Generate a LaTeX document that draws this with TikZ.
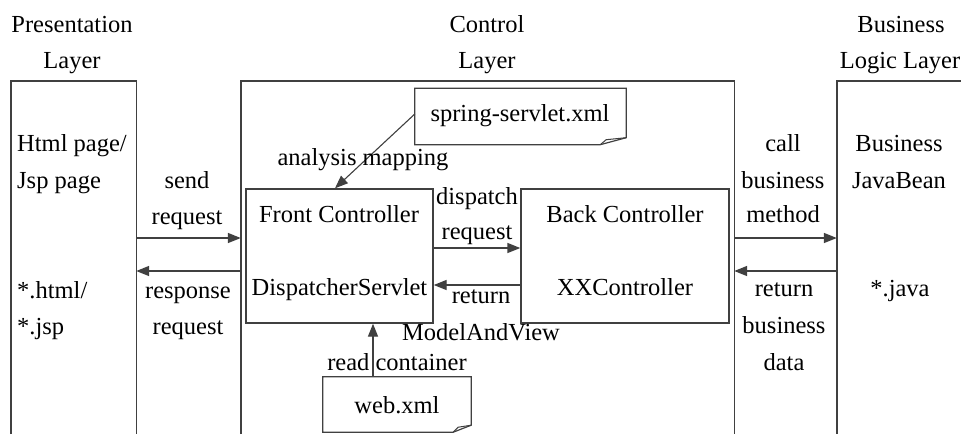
\documentclass[tikz,border=0pt]{standalone}
\usepackage{fontspec}
\setmainfont{Liberation Serif}
\usetikzlibrary{arrows.meta,calc}
\definecolor{linegray}{HTML}{404040}
\tikzset{
  txt/.style={inner sep=0pt, anchor=base, font=\fontsize{24.5}{30}\selectfont},
  txtl/.style={txt, anchor=base west},
  box/.style={draw=linegray, line width=1.4pt, inner sep=0pt},
  ghost/.style={draw=none, inner sep=0pt},
  edge/.style={draw=linegray, line width=1.4pt},
  arr/.style={edge, -{Triangle[length=13pt,width=10pt]}},
}
\begin{document}
\begin{tikzpicture}[x=1pt,y=-1pt]
\useasboundingbox (0,0) rectangle (961,434);
\fill[white] (0,0) rectangle (961,434);

% layer frames (open at the bottom)
\node[ghost, minimum width=125pt, minimum height=353pt] (pres) at (73.5,257.5) {};
\node[ghost, minimum width=493pt, minimum height=353pt] (ctrl) at (487.5,257.5) {};
\node[ghost, minimum width=124pt, minimum height=353pt] (biz) at (899,257.5) {};
\draw[edge] (pres.south west) -- (pres.north west) -- (pres.north east) -- (pres.south east);
\draw[edge] (ctrl.south west) -- (ctrl.north west) -- (ctrl.north east) -- (ctrl.south east);
\draw[edge] (biz.north east) -- (biz.north west) -- (biz.south west);

% titles
\node[txt] (t1a) at (72,32) {Presentation};
\node[txt] (t1b) at (72,68) {Layer};
\node[txt] (t2a) at (487,32) {Control};
\node[txt] (t2b) at (487,68) {Layer};
\node[txt] (t3a) at (901,32) {Business};
\node[txt] (t3b) at (900,68) {Logic Layer};

% presentation layer text
\node[txtl] (p1) at (17,151) {Html page/};
\node[txtl] (p2) at (17,188) {Jsp page};
\node[txtl] (p3) at (17,298) {*.html/};
\node[txtl] (p4) at (17,334) {*.jsp};

% business layer text
\node[txt] (b1) at (899,151) {Business};
\node[txt] (b2) at (899,188) {JavaBean};
\node[txt] (b3) at (900,296) {*.java};

% controllers
\node[box, minimum width=187pt, minimum height=134pt] (fc) at (339.5,256) {};
\node[txt] (fc1) at (339,222) {Front Controller};
\node[txt] (fc2) at (339.5,295) {DispatcherServlet};
\node[box, minimum width=208pt, minimum height=134pt] (bc) at (625,256) {};
\node[txt] (bc1) at (625,222) {Back Controller};
\node[txt] (bc2) at (625,295) {XXController};

% notes
\node[ghost, minimum width=211pt, minimum height=56pt] (spring) at (520.5,116.5) {};
\node[txt] (springt) at (520,121) {spring-servlet.xml};
\draw[edge, line width=1.2pt] (spring.north west) -- (spring.north east) -- ($(spring.south east)+(0,-7)$)
  -- ($(spring.south east)+(-26,0)$) -- (spring.south west) -- cycle;
\draw[edge, line width=1pt] ($(spring.south east)+(-26,0)$) -- ($(spring.south east)+(-20,-5)$) -- ($(spring.south east)+(0,-7)$);

\node[ghost, minimum width=148pt, minimum height=55pt] (web) at (397,404.5) {};
\node[txt] (webt) at (397,413) {web.xml};
\draw[edge, line width=1.2pt] (web.north west) -- (web.north east) -- ($(web.south east)+(0,-7)$)
  -- ($(web.south east)+(-18,0)$) -- (web.south west) -- cycle;
\draw[edge, line width=1pt] ($(web.south east)+(-18,0)$) -- ($(web.south east)+(-13,-5)$) -- ($(web.south east)+(0,-7)$);

% connectors
\draw[arr] (pres.east |- 0,238) -- (ctrl.west |- 0,238);
\draw[arr] (ctrl.west |- 0,271) -- (pres.east |- 0,271);
\draw[arr] (ctrl.east |- 0,238) -- (biz.west |- 0,238);
\draw[arr] (biz.west |- 0,271) -- (ctrl.east |- 0,271);
\draw[arr] (fc.east |- 0,248) -- (bc.west |- 0,248);
\draw[arr] (bc.west |- 0,285) -- (fc.east |- 0,285);
\draw[arr, line width=1.1pt] (spring.west |- 0,114) -- (fc.north -| 335,0);
\draw[arr] (web.north -| 373,0) -- (fc.south -| 373,0);

% connector labels
\node[txt] (l1) at (187,188) {send};
\node[txt] (l2) at (187,224) {request};
\node[txt] (l3) at (188,298) {response};
\node[txt] (l4) at (188,334) {request};
\node[txt] (l5) at (783,151) {call};
\node[txt] (l6) at (783,188) {business};
\node[txt] (l7) at (783,222) {method};
\node[txt] (l8) at (784,296) {return};
\node[txt] (l9) at (784,333) {business};
\node[txt] (l10) at (784,370) {data};
\node[txt] (l11) at (477,204) {dispatch};
\node[txt] (l12) at (477,239) {request};
\node[txt] (l13) at (481,303) {return};
\node[txt] (l14) at (481,340) {ModelAndView};
\node[txt] (l15) at (363,165) {analysis mapping};
\node[txt] (l16) at (397,370) {read container};
\end{tikzpicture}
\end{document}
